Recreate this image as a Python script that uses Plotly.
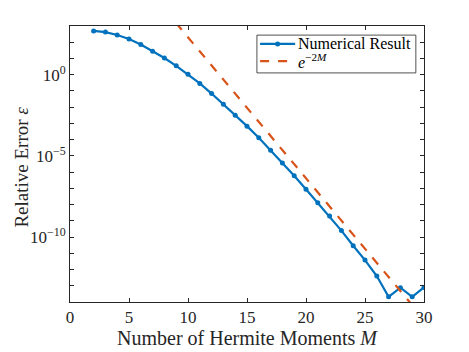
import plotly.graph_objects as go

# Numerical result: relative error vs number of Hermite moments
moments = list(range(2, 31))
rel_error = [
    5.0e2, 4.2e2, 2.8e2, 1.6e2, 7.2e1, 2.8e1, 1.07e1, 3.5e0, 1.07e0,
    2.9e-1, 6.9e-2, 1.5e-2, 3.2e-3, 6.8e-4, 1.3e-4, 2.2e-5, 3.7e-6,
    5.9e-7, 8.9e-8, 1.3e-8, 1.95e-9, 2.5e-10, 2.9e-11, 3.8e-12, 4.0e-13,
    2.1e-14, 7.6e-14, 2.1e-14, 7.9e-14,
]

# Reference slope e^{-2M} (straight line on log axis), read at its ends
ref_m = [8, 30]
ref_val = [1.1e4, 8.7e-16]

# y ticks: labelled every 5 decades, plain tick marks at every decade
ylabel_exp = [-10, -5, 0]
ylabel_vals = [10.0 ** e for e in ylabel_exp]
ylabel_text = [f"10<sup>{str(e).replace('-', '−')}</sup>" for e in ylabel_exp]
yminor_vals = [10.0 ** e for e in range(-14, 4)]

BLUE = "#0072BD"
RED = "#D95319"
AXIS = "#262626"
FONT = "Liberation Serif"

fig = go.Figure()
fig.add_trace(go.Scatter(
    x=moments, y=rel_error, mode="lines+markers", name="Numerical Result",
    line=dict(color=BLUE, width=2.2), marker=dict(color=BLUE, size=5),
))
fig.add_trace(go.Scatter(
    x=ref_m, y=ref_val, mode="lines", name="<i>e</i><sup>−2<i>M</i></sup>",
    line=dict(color=RED, width=2.2, dash="dash"),
))

# MATLAB-style compact legend box in the upper right (drawn by hand,
# plotly's own legend rows are too tall)
leg_rows = [0.935, 0.873]
fig.add_shape(type="rect", xref="paper", yref="paper", x0=0.528, x1=0.977, y0=0.830, y1=0.967,
              fillcolor="white", line=dict(color=AXIS, width=0.8))
fig.add_shape(type="line", xref="paper", yref="paper", x0=0.537, x1=0.636, y0=leg_rows[0], y1=leg_rows[0],
              line=dict(color=BLUE, width=2.2))
fig.add_shape(type="circle", xref="paper", yref="paper", xsizemode="pixel", ysizemode="pixel",
              xanchor=0.5865, yanchor=leg_rows[0], x0=-2.5, x1=2.5, y0=-2.5, y1=2.5,
              fillcolor=BLUE, line=dict(color=BLUE, width=0))
fig.add_shape(type="line", xref="paper", yref="paper", x0=0.537, x1=0.636, y0=leg_rows[1], y1=leg_rows[1],
              line=dict(color=RED, width=2.2, dash="dash"))
for row, trace in zip(leg_rows, fig.data):
    fig.add_annotation(x=0.638, y=row, xref="paper", yref="paper", text=trace.name,
                       showarrow=False, xanchor="left", yanchor="middle",
                       font=dict(family=FONT, size=16, color="black"))

# y-axis title placed by hand, flush with the figure's left edge
fig.add_annotation(x=-0.175, y=0.489, xref="paper", yref="paper", text="Relative Error <i>ε</i>",
                   textangle=-90, showarrow=False, xanchor="left", yanchor="middle",
                   font=dict(family=FONT, size=19, color=AXIS))

# page body has an 8px margin, so the figure is a bit smaller than the window
fig.update_layout(
    width=461, height=344,
    margin=dict(l=62, r=45, t=18, b=50),
    paper_bgcolor="white", plot_bgcolor="white",
    font=dict(family=FONT, size=17, color=AXIS),
    showlegend=False,
)
fig.update_xaxes(
    range=[0, 30], tickvals=[0, 5, 10, 15, 20, 25, 30],
    tickfont=dict(size=17),
    ticks="inside", ticklen=4, tickcolor=AXIS, showgrid=False, zeroline=False,
    showline=True, linecolor=AXIS, linewidth=0.8, mirror="allticks", automargin=False,
    title=dict(text="Number of Hermite Moments <i>M</i>", font=dict(size=20, color=AXIS), standoff=4),
)
fig.update_yaxes(
    type="log", range=[-14, 3], tickvals=ylabel_vals, ticktext=ylabel_text,
    tickfont=dict(size=17),
    ticks="inside", ticklen=4, tickcolor=AXIS, showgrid=False, zeroline=False,
    minor=dict(tickmode="array", tickvals=yminor_vals, ticks="inside", ticklen=4, tickcolor=AXIS, showgrid=False),
    showline=True, linecolor=AXIS, linewidth=0.8, mirror="allticks", automargin=False,
)

fig.write_html("out.html")
